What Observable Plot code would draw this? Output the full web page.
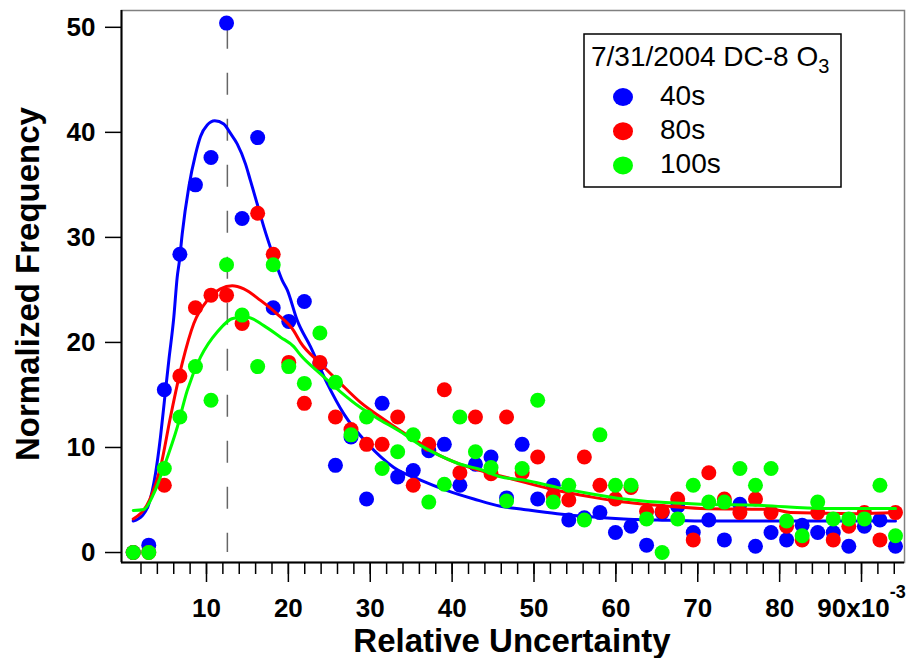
<!DOCTYPE html>
<html>
<head>
<meta charset="utf-8">
<script src="https://cdn.jsdelivr.net/npm/d3@7"></script>
<script src="https://cdn.jsdelivr.net/npm/@observablehq/plot@0.6"></script>
<style>
  body { margin: 0; background: #fff; }
  #chart { width: 911px; height: 658px; }
</style>
</head>
<body>
<div id="chart"></div>
<script>
// ---- data (relative uncertainty in units of 10^-3) ----
const binCenters = [1.05, 2.95, 4.85, 6.75, 8.65, 10.55, 12.45, 14.35, 16.25, 18.15,
  20.05, 21.95, 23.85, 25.75, 27.65, 29.55, 31.45, 33.35, 35.25, 37.15,
  39.05, 40.95, 42.85, 44.75, 46.65, 48.55, 50.45, 52.35, 54.25, 56.15,
  58.05, 59.95, 61.85, 63.75, 65.65, 67.55, 69.45, 71.35, 73.25, 75.15,
  77.05, 78.95, 80.85, 82.75, 84.65, 86.55, 88.45, 90.35, 92.25, 94.15];

const freq40s = [0, 0.7, 15.5, 28.4, 35.0, 37.6, 50.4, 31.8, 39.5, 23.3,
  22.0, 23.9, 18.0, 8.3, 11.0, 5.1, 14.2, 7.2, 7.8, 9.7,
  10.3, 6.4, 8.4, 9.1, 5.2, 10.3, 5.1, 6.4, 3.1, 3.3,
  3.8, 1.9, 2.5, 0.7, 3.8, 4.4, 1.9, 3.1, 1.2, 4.6,
  0.6, 1.9, 1.2, 2.6, 1.9, 1.9, 0.6, 2.5, 3.1, 0.6];

const freq80s = [0, 0, 6.4, 16.8, 23.3, 24.5, 24.5, 21.8, 32.3, 28.4,
  18.1, 14.2, 18.1, 12.9, 11.7, 10.3, 10.3, 12.9, 6.4, 10.3,
  15.5, 7.6, 12.9, 7.5, 12.9, 7.6, 9.1, 5.4, 5.0, 9.1,
  6.4, 5.1, 6.2, 3.9, 3.9, 5.1, 1.2, 7.6, 5.1, 3.8,
  5.1, 3.8, 2.5, 1.2, 3.8, 1.2, 2.5, 3.8, 1.2, 3.8];

const freq100s = [0, 0, 8.0, 12.9, 17.7, 14.5, 27.4, 22.6, 17.7, 27.4,
  17.7, 16.1, 20.9, 16.2, 11.2, 12.9, 8.0, 9.6, 11.2, 4.8,
  6.5, 12.9, 9.6, 8.1, 4.9, 8.0, 14.5, 4.8, 6.4, 3.1,
  11.2, 6.4, 6.4, 3.2, 0, 3.2, 6.4, 4.8, 4.8, 8.0,
  6.4, 8.0, 3.0, 1.6, 4.8, 3.2, 3.2, 3.2, 6.4, 1.6];

// smoothed fit curves
const fit40sX = [1.05, 2.15, 2.95, 3.77, 4.38, 4.87, 5.40, 6.01, 6.42, 6.70, 7.03, 7.84, 8.66, 9.27,
  10.09, 11.01, 12.11, 12.93, 13.75, 14.76, 15.37, 16.19, 17.00, 18.22, 19.25, 19.86, 21.08,
  22.70, 24.74, 26.77, 29.63, 32.88, 36.14, 39.40, 42.65, 45.91, 48.75, 52.83, 56.90, 60.97,
  65.05, 70.34, 82.55, 94.15];
const fit40sY = [3.0, 3.5, 4.6, 7.5, 11.0, 14.5, 18.3, 22.4, 26.2, 27.8, 30.3, 34.8, 37.9, 39.6,
  40.7, 41.1, 40.8, 39.9, 38.9, 37.0, 35.4, 33.2, 31.0, 28.1, 25.9, 25.0, 22.1,
  19.6, 16.1, 13.2, 10.4, 8.1, 6.9, 5.9, 5.1, 4.4, 4.1, 3.7, 3.4, 3.2,
  3.1, 3.0, 3.0, 3.0];

const fit80sX = [1.05, 3.04, 4.38, 5.60, 7.03, 8.45, 10.09, 11.71, 13.14, 14.56, 16.60, 18.64,
  20.66, 21.48, 23.92, 26.37, 28.81, 31.25, 33.69, 36.14, 38.58, 41.02, 43.47, 45.91, 48.75,
  52.83, 56.90, 60.97, 65.05, 70.34, 79.25, 81.33, 89.51, 94.15];
const fit80sY = [3.2, 5.0, 8.1, 12.9, 18.0, 21.8, 24.0, 25.1, 25.4, 25.1, 24.0, 22.7,
  21.1, 20.0, 18.0, 16.1, 14.3, 12.9, 11.6, 10.4, 9.2, 8.4, 7.8, 7.3, 6.7,
  5.9, 5.3, 4.8, 4.5, 4.2, 4.1, 3.8, 3.7, 3.8];

const fit100sX = [1.05, 2.34, 3.56, 4.78, 6.42, 7.64, 9.27, 11.31, 13.33, 14.97, 17.00, 19.04,
  20.66, 21.48, 23.92, 26.37, 28.81, 31.25, 33.69, 36.14, 38.58, 41.02, 43.47, 45.91, 48.75,
  52.83, 56.90, 60.97, 65.05, 70.34, 77.26, 85.40, 94.15];
const fit100sY = [4.0, 4.1, 5.6, 8.1, 11.9, 15.4, 18.6, 21.0, 22.3, 22.4, 21.6, 20.5,
  19.6, 18.8, 17.0, 15.3, 13.8, 12.6, 11.5, 10.2, 9.2, 8.4, 7.9, 7.2, 6.9,
  6.2, 5.6, 5.1, 4.8, 4.6, 4.5, 4.2, 4.2];

const seriesNames = ["40s", "80s", "100s"];
const seriesColors = ["#0000ff", "#ff0000", "#00ff00"];

const markerX = 12.55;          // dashed reference line
const markerTop = 50;

const xDomain = [-0.38, 95.25];
const yDomain = [-0.95, 51.6];
const xMinorTicks = d3.range(2, 95, 2);
const xMajorTicks = [10, 20, 30, 40, 50, 60, 70, 80, 90];
const xTickLabels = ["10", "20", "30", "40", "50", "60", "70", "80", "90x10"];
const xTickExponent = "-3";
const yTicks = [0, 10, 20, 30, 40, 50];

const xTitle = "Relative Uncertainty";
const yTitle = "Normalized Frequency";
const legendTitle = "7/31/2004 DC-8 O";
const legendSub = "3";

// ---- build tables ----
const pointSets = [freq40s, freq80s, freq100s].map((vals, s) =>
  binCenters.map((x, i) => ({x, y: vals[i], series: seriesNames[s]})));
const fitSets = [[fit40sX, fit40sY], [fit80sX, fit80sY], [fit100sX, fit100sY]].map(([xs, ys], s) =>
  xs.map((x, i) => ({x, y: ys[i], series: seriesNames[s]})));

const FONT = "'Liberation Sans', Arial, Helvetica, sans-serif";

const marks = [
  Plot.ruleX([markerX], {y1: markerTop, y2: 0, stroke: "#666", strokeWidth: 1.5, strokeDasharray: "22,24"}),
  Plot.frame({stroke: "#808080", strokeWidth: 1.5}),
  Plot.ruleX([xDomain[0]], {stroke: "black", strokeWidth: 2}),
  Plot.ruleY([yDomain[0]], {stroke: "black", strokeWidth: 2}),
  Plot.axisY({ticks: yTicks, tickSize: 16, tickPadding: 10, fontSize: 26, fontWeight: "bold",
    strokeWidth: 1.5, label: null}),
  Plot.axisX({ticks: xMinorTicks, tickSize: 12, tickFormat: () => "", strokeWidth: 1.5, label: null}),
  Plot.axisX({ticks: xMajorTicks, tickSize: 20, tickPadding: 16, strokeWidth: 1.5,
    tickFormat: d => xTickLabels[xMajorTicks.indexOf(d)], fontSize: 26, fontWeight: "bold", label: null})
];
for (let s = 0; s < 3; s++) {
  marks.push(Plot.line(fitSets[s], {x: "x", y: "y", stroke: seriesColors[s], strokeWidth: 3, curve: "monotone-x"}));
  marks.push(Plot.dot(pointSets[s], {x: "x", y: "y", r: 7.5, fill: seriesColors[s], stroke: "none"}));
}

const plot = Plot.plot({
  width: 911,
  height: 658,
  marginLeft: 121,
  marginRight: 7,
  marginTop: 10,
  marginBottom: 96,
  style: {fontFamily: FONT, background: "white", color: "black", overflow: "visible"},
  x: {domain: xDomain, label: null},
  y: {domain: yDomain, label: null},
  marks
});
document.getElementById("chart").appendChild(plot);

// ---- post-process: exponent, axis titles, legend ----
const svg = d3.select(plot);
svg.selectAll('g[aria-label="x-axis tick label"] text')
  .filter(function() { return this.textContent === xTickLabels[xTickLabels.length - 1]; })
  .append("tspan").attr("dy", -19).attr("font-size", 18).text(xTickExponent);

svg.append("text")
  .attr("x", 512).attr("y", 652)
  .attr("text-anchor", "middle")
  .attr("font-family", FONT).attr("font-size", 33).attr("font-weight", "bold")
  .text(xTitle);

svg.append("text")
  .attr("transform", "translate(39,284) rotate(-90)")
  .attr("text-anchor", "middle")
  .attr("font-family", FONT).attr("font-size", 33).attr("font-weight", "bold")
  .text(yTitle);

const lg = svg.append("g").attr("font-family", FONT).attr("text-anchor", "start");
lg.append("rect").attr("x", 584).attr("y", 34).attr("width", 257).attr("height", 153)
  .attr("fill", "white").attr("stroke", "black").attr("stroke-width", 1.5);
const lt = lg.append("text").attr("x", 591).attr("y", 66).attr("font-size", 28)
  .attr("text-anchor", "start").text(legendTitle);
lt.append("tspan").attr("font-size", 20).attr("dy", 7).text(legendSub);
seriesNames.forEach((name, i) => {
  lg.append("ellipse").attr("cx", 623).attr("cy", 97 + i * 34.2).attr("rx", 10).attr("ry", 9)
    .attr("fill", seriesColors[i]);
  lg.append("text").attr("x", 660).attr("y", 105 + i * 34.2).attr("font-size", 28)
    .attr("text-anchor", "start").text(name);
});
</script>
</body>
</html>
